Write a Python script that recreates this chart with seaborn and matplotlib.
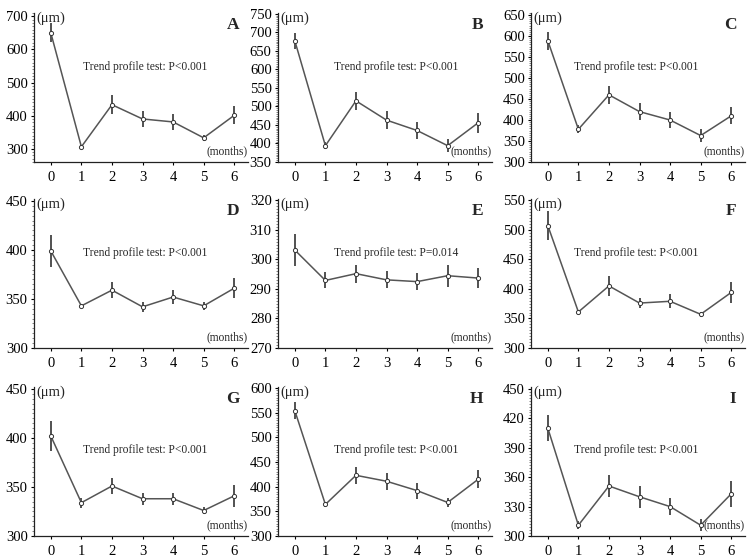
import numpy as np
import pandas as pd
import matplotlib
matplotlib.use('Agg')
import matplotlib.pyplot as plt
import seaborn as sns
from matplotlib.ticker import AutoMinorLocator

months = [0, 1, 2, 3, 4, 5, 6]
panel_labels = ['A', 'B', 'C', 'D', 'E', 'F', 'G', 'H', 'I']

a_mean = [650, 306, 433, 390, 381, 333, 401]
a_err = [29, 5, 29, 23, 25, 10, 27]
b_mean = [677, 394, 515, 463, 435, 394, 456]
b_err = [22, 10, 25, 25, 22, 17, 27]
c_mean = [589, 378, 460, 420, 400, 363, 410]
c_err = [21, 10, 21, 20, 18, 15, 20]
d_mean = [399, 343, 359, 342, 352, 343, 361]
d_err = [16, 2, 8, 5, 7, 4, 10]
e_mean = [303.2, 292.9, 295.2, 293.1, 292.5, 294.5, 293.7]
e_err = [5.4, 2.7, 3.1, 2.9, 3.0, 3.7, 3.5]
f_mean = [507, 361, 405, 376, 379, 357, 394]
f_err = [24, 4, 17, 9, 12, 4, 18]
g_mean = [402, 334, 351, 338, 338, 326, 341]
g_err = [15, 5, 8, 6, 6, 4, 11]
h_mean = [554, 364, 423, 411, 392, 368, 415]
h_err = [17, 5, 17, 17, 16, 10, 18]
i_mean = [410, 311, 351, 340, 330, 311, 343]
i_err = [13, 4, 11, 11, 9, 6, 13]

p_texts = ['P<0.001', 'P<0.001', 'P<0.001', 'P<0.001', 'P=0.014',
           'P<0.001', 'P<0.001', 'P<0.001', 'P<0.001']
y_ticks = [
    [300, 400, 500, 600, 700],
    [350, 400, 450, 500, 550, 600, 650, 700, 750],
    [300, 350, 400, 450, 500, 550, 600, 650],
    [300, 350, 400, 450],
    [270, 280, 290, 300, 310, 320],
    [300, 350, 400, 450, 500, 550],
    [300, 350, 400, 450],
    [300, 350, 400, 450, 500, 550, 600],
    [300, 330, 360, 390, 420, 450],
]
y_lims = [(260, 710), (350, 752), (300, 655), (300, 452), (270, 320.5),
          (300, 552), (300, 452), (300, 602), (300, 452)]

means = [a_mean, b_mean, c_mean, d_mean, e_mean, f_mean, g_mean, h_mean, i_mean]
errs = [a_err, b_err, c_err, d_err, e_err, f_err, g_err, h_err, i_err]

sns.set_style('ticks')
plt.rcParams['font.family'] = ['Liberation Serif', 'DejaVu Serif']

fig = plt.figure(figsize=(7.55, 5.59), dpi=100)
W, H = 755, 559
col_left = [34, 278, 531]
row_bottom = [162, 348, 536]
ax_w, ax_h = 214, 149
text_x = [3.1, 3.3, 2.9, 3.1, 3.3, 2.9, 3.1, 3.3, 2.9]
text_y = [0.64, 0.64, 0.64, 0.64, 0.64, 0.64, 0.58, 0.58, 0.58]

for k in range(9):
    r, c = divmod(k, 3)
    ax = fig.add_axes([col_left[c] / W, 1 - row_bottom[r] / H, ax_w / W, ax_h / H])
    df = pd.DataFrame({'month': months, 'value': means[k], 'err': errs[k]})
    ax.errorbar(df['month'], df['value'], yerr=df['err'], fmt='none',
                ecolor='#222222', elinewidth=1.1, capsize=0)
    sns.lineplot(data=df, x='month', y='value', ax=ax, color='#555555',
                 linewidth=1.1, marker='o', markersize=3.0,
                 markerfacecolor='white', markeredgecolor='#333333',
                 markeredgewidth=0.7)
    ax.set_xlim(-0.55, 6.45)
    ax.set_ylim(*y_lims[k])
    ax.set_xticks(months)
    ax.set_yticks(y_ticks[k])
    ax.yaxis.set_minor_locator(AutoMinorLocator(10))
    ax.tick_params(axis='both', which='major', labelsize=10.5, length=2.5,
                   width=0.8, pad=2, colors='black')
    ax.tick_params(axis='y', which='minor', length=1.2, width=0.4)
    ax.tick_params(axis='x', pad=4)
    ax.set_xlabel('')
    ax.set_ylabel('')
    for s in ['top', 'right']:
        ax.spines[s].set_visible(False)
    for s in ['left', 'bottom']:
        ax.spines[s].set_linewidth(0.9)
        ax.spines[s].set_color('#222222')
    ax.text(0.01, 1.01, '(\u03bcm)', transform=ax.transAxes, fontsize=10.5,
            ha='left', va='top')
    ax.text(0.96, 0.92, panel_labels[k], transform=ax.transAxes, fontsize=12.5,
            fontweight='bold', ha='right', va='center')
    ax.text(text_x[k], ax.get_ylim()[0] + text_y[k] * (ax.get_ylim()[1] - ax.get_ylim()[0]),
            'Trend profile test: ' + p_texts[k], fontsize=8.3,
            ha='center', va='center')
    ax.text(1.0, 0.03, '(months)', transform=ax.transAxes, fontsize=8.3,
            ha='right', va='bottom')

fig.savefig('out.png', dpi=100)
